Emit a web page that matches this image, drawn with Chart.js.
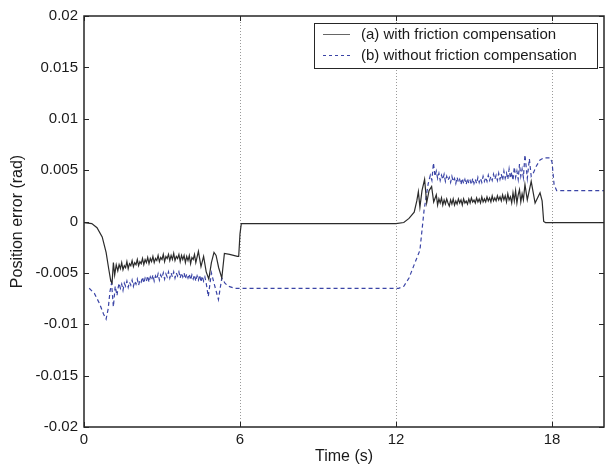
<!DOCTYPE html>
<html>
<head>
<meta charset="utf-8">
<script src="https://cdn.jsdelivr.net/npm/chart.js@4/dist/chart.umd.min.js"></script>
<style>
  html, body { margin: 0; padding: 0; background: #fff; }
  #wrap { width: 606px; height: 466px; }
</style>
</head>
<body>
<div id="wrap"><canvas id="chart" width="606" height="466"></canvas></div>
<script>
// values
const xTicks = [0, 6, 12, 18];
const yTicks = [-0.02, -0.015, -0.01, -0.005, 0, 0.005, 0.01, 0.015, 0.02];

const seriesLabels = ['(a) with friction compensation', '(b) without friction compensation'];

// (a) with friction compensation
const timeA = [
    0, 0.3, 0.5, 0.7, 0.85, 0.95, 1.03, 1.08, 1.13, 1.18, 1.24,
    1.30, 1.35, 1.40, 1.45, 1.50, 1.55, 1.60, 1.65, 1.70, 1.75, 1.80, 1.85, 1.90, 1.95,
    2.00, 2.05, 2.10, 2.15, 2.20, 2.25, 2.30, 2.35, 2.40, 2.45, 2.50, 2.55, 2.60, 2.65, 2.70, 2.75, 2.80, 2.85, 2.90, 2.95,
    3.00, 3.05, 3.10, 3.15, 3.20, 3.25, 3.30, 3.35, 3.40, 3.45, 3.50, 3.55, 3.60, 3.65, 3.70, 3.75, 3.80, 3.85, 3.90, 3.95,
    4.00, 4.05, 4.10, 4.15, 4.20, 4.25, 4.30, 4.4, 4.5, 4.6,
    4.7, 4.8, 4.9, 5.0, 5.08, 5.18, 5.3, 5.4, 5.6, 5.9, 5.95, 6.0, 6.05,
    12.0, 12.3, 12.5, 12.7, 12.8, 12.86, 12.92, 13.0, 13.1, 13.18, 13.27, 13.37, 13.45, 13.55,
    13.60, 13.65, 13.70, 13.75, 13.80, 13.85, 13.90, 13.95, 14.00, 14.05, 14.10, 14.15, 14.20, 14.25, 14.30, 14.35, 14.40, 14.45,
    14.50, 14.55, 14.60, 14.65, 14.70, 14.75, 14.80, 14.85, 14.90, 14.95, 15.00, 15.05, 15.10, 15.15, 15.20, 15.25, 15.30, 15.35,
    15.40, 15.45, 15.50, 15.55, 15.60, 15.65, 15.70, 15.75, 15.80, 15.85, 15.90, 15.95, 16.00, 16.05, 16.10, 16.15, 16.20, 16.25,
    16.30, 16.35, 16.40, 16.45, 16.50, 16.55, 16.60, 16.65, 16.70, 16.75, 16.80, 16.85, 16.90, 16.96,
    17.05, 17.2, 17.35, 17.54, 17.62, 17.68, 17.75, 20.0
];
const errA = [
    -0.0001, -0.0002, -0.0006, -0.0015, -0.0030, -0.0046, -0.0058, -0.0060, -0.0040, -0.0052, -0.0042,
    -0.0048, -0.0042, -0.0046, -0.0040, -0.0047, -0.0043, -0.0045, -0.0039, -0.0046, -0.0041, -0.0043, -0.0038, -0.0044, -0.0040,
    -0.0042, -0.0037, -0.0043, -0.0039, -0.0041, -0.0036, -0.0042, -0.0037, -0.0040, -0.0035, -0.0041, -0.0036, -0.0039, -0.0034, -0.0040, -0.0036, -0.0038, -0.0033, -0.0039, -0.0035,
    -0.0037, -0.0032, -0.0039, -0.0034, -0.0036, -0.0032, -0.0038, -0.0033, -0.0037, -0.0031, -0.0038, -0.0034, -0.0036, -0.0032, -0.0039, -0.0033, -0.0037, -0.0033, -0.0040, -0.0034,
    -0.0038, -0.0033, -0.0041, -0.0035, -0.0037, -0.0032, -0.0040, -0.0029, -0.0044, -0.0034,
    -0.0049, -0.0056, -0.0040, -0.0030, -0.0033, -0.0045, -0.0055, -0.0031, -0.0032, -0.0034, -0.0034, -0.0012, -0.0002,
    -0.0002, -0.0001, 0.0003, 0.0009, 0.0020, 0.0029, 0.0014, 0.0030, 0.0041, 0.0018, 0.0030, 0.0034, 0.0019, 0.0026,
    0.0016, 0.0022, 0.0018, 0.0023, 0.0016, 0.0021, 0.0017, 0.0022, 0.0018, 0.0015, 0.0021, 0.0017, 0.0022, 0.0016, 0.0020, 0.0017, 0.0022, 0.0018,
    0.0021, 0.0016, 0.0022, 0.0018, 0.0020, 0.0017, 0.0022, 0.0018, 0.0023, 0.0019, 0.0021, 0.0018, 0.0023, 0.0019, 0.0022, 0.0018, 0.0024, 0.0019,
    0.0022, 0.0019, 0.0024, 0.0020, 0.0023, 0.0019, 0.0025, 0.0020, 0.0023, 0.0020, 0.0025, 0.0021, 0.0024, 0.0020, 0.0026, 0.0021, 0.0025, 0.0019,
    0.0027, 0.0021, 0.0024, 0.0018, 0.0028, 0.0020, 0.0030, 0.0018, 0.0026, 0.0031, 0.0019, 0.0027, 0.0021, 0.0036,
    0.0021, 0.0039, 0.0018, 0.0028, 0.0020, 0.0000, -0.0001, -0.0001
];

// (b) without friction compensation
const timeB = [
    0.2, 0.4, 0.6, 0.75, 0.85, 0.93, 1.0, 1.06, 1.13, 1.2, 1.27,
    1.30, 1.35, 1.40, 1.45, 1.50, 1.55, 1.60, 1.65, 1.70, 1.75, 1.80, 1.85, 1.90, 1.95,
    2.00, 2.05, 2.10, 2.15, 2.20, 2.25, 2.30, 2.35, 2.40, 2.45, 2.50, 2.55, 2.60, 2.65, 2.70, 2.75, 2.80, 2.85, 2.90, 2.95,
    3.00, 3.05, 3.10, 3.15, 3.20, 3.25, 3.30, 3.35, 3.40, 3.45, 3.50, 3.55, 3.60, 3.65, 3.70, 3.75, 3.80, 3.85, 3.90, 3.95,
    4.00, 4.05, 4.10, 4.15, 4.20, 4.25, 4.30, 4.35, 4.40, 4.45, 4.50, 4.55, 4.60, 4.65, 4.70,
    4.78, 4.9, 5.0, 5.17, 5.3, 5.42, 5.55, 5.8,
    12.1, 12.3, 12.5, 12.7, 12.92, 13.08, 13.24, 13.32, 13.38, 13.44, 13.5,
    13.55, 13.60, 13.65, 13.70, 13.75, 13.80, 13.85, 13.90, 13.95, 14.00, 14.05, 14.10, 14.15, 14.20, 14.25, 14.30, 14.35, 14.40,
    14.45, 14.50, 14.55, 14.60, 14.65, 14.70, 14.75, 14.80, 14.85, 14.90, 14.95, 15.00, 15.05, 15.10, 15.15, 15.20, 15.25, 15.30,
    15.35, 15.40, 15.45, 15.50, 15.55, 15.60, 15.65, 15.70, 15.75, 15.80, 15.85, 15.90, 15.95, 16.00, 16.05, 16.10, 16.15, 16.20,
    16.25, 16.30, 16.35, 16.40, 16.45, 16.50, 16.55, 16.60, 16.65, 16.70, 16.75, 16.80, 16.85, 16.90, 16.96,
    17.05, 17.13, 17.2, 17.28, 17.4, 17.54, 17.7, 17.92, 18.0, 18.08, 18.18, 20.0
];
const errB = [
    -0.0065, -0.0070, -0.0080, -0.0090, -0.0095, -0.0085, -0.0068, -0.0060, -0.0083, -0.0063, -0.0072,
    -0.0066, -0.0060, -0.0065, -0.0061, -0.0067, -0.0060, -0.0063, -0.0058, -0.0064, -0.0059, -0.0062, -0.0057, -0.0063, -0.0058,
    -0.0061, -0.0056, -0.0062, -0.0057, -0.0059, -0.0054, -0.0060, -0.0055, -0.0058, -0.0053, -0.0059, -0.0054, -0.0057, -0.0052, -0.0058, -0.0053, -0.0056, -0.0051, -0.0057, -0.0052,
    -0.0055, -0.0050, -0.0056, -0.0051, -0.0054, -0.0049, -0.0055, -0.0050, -0.0054, -0.0049, -0.0055, -0.0050, -0.0053, -0.0049, -0.0055, -0.0050, -0.0054, -0.0050, -0.0056, -0.0051,
    -0.0055, -0.0051, -0.0057, -0.0052, -0.0056, -0.0052, -0.0058, -0.0053, -0.0057, -0.0052, -0.0059, -0.0053, -0.0058, -0.0054, -0.0060,
    -0.0073, -0.0050, -0.0060, -0.0076, -0.0055, -0.0060, -0.0063, -0.0065,
    -0.0065, -0.0063, -0.0055, -0.0042, -0.0028, 0.0011, 0.0037, 0.0045, 0.0040, 0.0057, 0.0044,
    0.0049, 0.0042, 0.0047, 0.0040, 0.0045, 0.0041, 0.0046, 0.0039, 0.0044, 0.0040, 0.0043, 0.0038, 0.0044, 0.0039, 0.0042, 0.0037, 0.0043, 0.0038,
    0.0041, 0.0036, 0.0042, 0.0037, 0.0041, 0.0036, 0.0042, 0.0037, 0.0040, 0.0036, 0.0042, 0.0037, 0.0041, 0.0037, 0.0043, 0.0038, 0.0042, 0.0038,
    0.0044, 0.0039, 0.0043, 0.0039, 0.0045, 0.0040, 0.0044, 0.0040, 0.0046, 0.0041, 0.0045, 0.0040, 0.0047, 0.0041, 0.0046, 0.0040, 0.0049, 0.0042,
    0.0047, 0.0041, 0.0051, 0.0042, 0.0048, 0.0040, 0.0053, 0.0043, 0.0049, 0.0041, 0.0056, 0.0044, 0.0051, 0.0043, 0.0065,
    0.0042, 0.0061, 0.0044, 0.0047, 0.0054, 0.0060, 0.0062, 0.0062, 0.0058, 0.0036, 0.0030, 0.0030
];

const FONT = "'Liberation Sans', Arial, Helvetica, sans-serif";
const lineColorA = '#2b2b2b';
const lineColorB = '#3a44a6';
const dashB = [4, 3];

// frame, inward ticks, dotted x grid and the boxed legend, MATLAB style
const matlabFrame = {
    id: 'matlabFrame',
    beforeDatasetsDraw(chart) {
        const { ctx, chartArea: a, scales } = chart;
        ctx.save();
        ctx.strokeStyle = '#9a9a9a';
        ctx.lineWidth = 1;
        ctx.setLineDash([1, 2]);
        xTicks.forEach(v => {
            if (v === 0) return;
            const px = Math.round(scales.x.getPixelForValue(v)) + 0.5;
            ctx.beginPath();
            ctx.moveTo(px, a.top);
            ctx.lineTo(px, a.bottom);
            ctx.stroke();
        });
        ctx.restore();
    },
    afterDatasetsDraw(chart) {
        const { ctx, chartArea: a, scales } = chart;
        const tl = 5;
        ctx.save();
        ctx.strokeStyle = '#262626';
        ctx.lineWidth = 1.5;
        ctx.setLineDash([]);
        ctx.strokeRect(a.left, a.top, a.right - a.left, a.bottom - a.top);
        ctx.lineWidth = 1;
        ctx.beginPath();
        xTicks.forEach(v => {
            const px = Math.round(scales.x.getPixelForValue(v)) + 0.5;
            ctx.moveTo(px, a.bottom); ctx.lineTo(px, a.bottom - tl);
            ctx.moveTo(px, a.top); ctx.lineTo(px, a.top + tl);
        });
        yTicks.forEach(v => {
            const py = Math.round(scales.y.getPixelForValue(v)) + 0.5;
            ctx.moveTo(a.left, py); ctx.lineTo(a.left + tl, py);
            ctx.moveTo(a.right, py); ctx.lineTo(a.right - tl, py);
        });
        ctx.stroke();

        // legend box
        const bx = 314, by = 23, bw = 283, bh = 45;
        ctx.fillStyle = '#fff';
        ctx.fillRect(bx, by, bw, bh);
        ctx.strokeStyle = '#262626';
        ctx.lineWidth = 1;
        ctx.strokeRect(bx + 0.5, by + 0.5, bw, bh);
        const rows = [by + 11, by + 32];
        ctx.font = '15px ' + FONT;
        ctx.textBaseline = 'middle';
        ctx.fillStyle = '#1a1a1a';
        rows.forEach((ry, i) => {
            ctx.beginPath();
            ctx.strokeStyle = i === 0 ? '#666' : lineColorB;
            ctx.setLineDash(i === 0 ? [] : [3, 3]);
            ctx.moveTo(323, ry + 0.5);
            ctx.lineTo(350, ry + 0.5);
            ctx.stroke();
            ctx.fillText(seriesLabels[i], 361, ry + 1);
        });
        ctx.restore();
    }
};

new Chart(document.getElementById('chart').getContext('2d'), {
    type: 'line',
    data: {
        datasets: [{
            label: seriesLabels[0],
            data: timeA.map((t, i) => ({ x: t, y: errA[i] })),
            borderColor: lineColorA,
            borderWidth: 1.2,
            pointRadius: 0,
            tension: 0,
        }, {
            label: seriesLabels[1],
            data: timeB.map((t, i) => ({ x: t, y: errB[i] })),
            borderColor: lineColorB,
            borderWidth: 1.2,
            borderDash: dashB,
            pointRadius: 0,
            tension: 0,
        }]
    },
    options: {
        responsive: false,
        animation: false,
        layout: { padding: { top: 16, right: 2, left: 0, bottom: 0 } },
        plugins: {
            legend: { display: false },
            tooltip: { enabled: false },
        },
        scales: {
            x: {
                type: 'linear',
                min: 0,
                max: 20,
                afterBuildTicks: (s) => { s.ticks = xTicks.map(v => ({ value: v })); },
                afterFit: (s) => { s.height = 39; },
                grid: { display: false, drawTicks: false },
                border: { display: false },
                ticks: {
                    color: '#1a1a1a',
                    font: { family: FONT, size: 15 },
                    padding: 4,
                    maxRotation: 0,
                    autoSkip: false,
                },
                title: {
                    display: true,
                    text: 'Time (s)',
                    color: '#1a1a1a',
                    font: { family: FONT, size: 16 },
                    padding: { top: 0, bottom: 0 },
                }
            },
            y: {
                min: -0.02,
                max: 0.02,
                afterBuildTicks: (s) => { s.ticks = yTicks.map(v => ({ value: v })); },
                afterFit: (s) => { s.width = 84; },
                grid: { display: false, drawTicks: false },
                border: { display: false },
                ticks: {
                    color: '#1a1a1a',
                    font: { family: FONT, size: 15 },
                    padding: 6,
                    callback: (v) => String(Number(v.toFixed(3))),
                },
                title: {
                    display: true,
                    text: 'Position error (rad)',
                    color: '#1a1a1a',
                    font: { family: FONT, size: 16 },
                    padding: { top: 8, bottom: 0 },
                }
            }
        }
    },
    plugins: [matlabFrame]
});
</script>
</body>
</html>
